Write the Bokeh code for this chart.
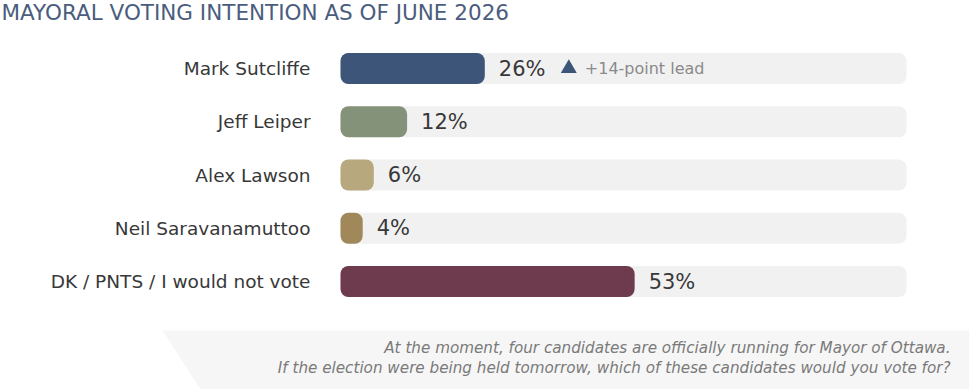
from bokeh.plotting import figure
from bokeh.models import Range1d, Label, PolyAnnotation, ColumnDataSource
from bokeh.core.properties import value
from bokeh.embed import file_html
from bokeh.resources import INLINE

# ---- data ----
candidates = ["Mark Sutcliffe", "Jeff Leiper", "Alex Lawson", "Neil Saravanamuttoo", "DK / PNTS / I would not vote"]
shares = [26, 12, 6, 4, 53]
bar_colors = ["#3d5578", "#849279", "#b8a87e", "#a0885a", "#6e3a4e"]
lead_text = "+14-point lead"
title_text = "MAYORAL VOTING INTENTION AS OF JUNE 2026"
note_lines = ["At the moment, four candidates are officially running for Mayor of Ottawa.",
              "If the election were being held tomorrow, which of these candidates would you vote for?"]
track_max = 102

W, H = 969, 389
PX = 5.55      # pixels per percentage point
X0 = 340       # pixel of 0%
ROW = 53.25    # pixels per row
Y0 = 68        # pixel of first row centre

FONT = "DejaVu Sans"

p = figure(width=W, height=H, output_backend="svg", toolbar_location=None,
           x_range=Range1d(-X0 / PX, (W - X0) / PX),
           y_range=Range1d((H - Y0) / ROW, -Y0 / ROW),
           min_border=0, min_border_left=0, min_border_right=0,
           min_border_top=0, min_border_bottom=0)
p.axis.visible = False
p.grid.visible = False
p.outline_line_color = None
p.background_fill_color = "white"
p.border_fill_color = "white"

# footnote background parallelogram (decoration, screen units)
p.add_layout(PolyAnnotation(xs=[162, W, W, 200], ys=[H - 330, H - 330, 0, 0],
                            xs_units="screen", ys_units="screen",
                            fill_color="#f6f6f6", fill_alpha=1, line_color=None, level="underlay"))

rows = list(range(len(candidates)))
src = ColumnDataSource(dict(y=rows, share=shares, color=bar_colors, name=candidates,
                            label=[f"{v}%" for v in shares], track=[track_max] * len(rows)))

bh = 31 / ROW
p.hbar(y="y", left=0, right="track", height=bh, source=src, fill_color="#f1f1f1",
       line_color=None, border_radius=8)
p.hbar(y="y", left=0, right="share", height=bh, source=src, fill_color="color",
       line_color=None, border_radius=8)

p.text(x=-30 / PX, y="y", text="name", source=src, text_align="right", text_baseline="middle",
       text_font=value(FONT), text_font_size="18.5px", text_color="#383838")
p.text(x="share", y="y", text="label", source=src, x_offset=14, text_align="left",
       text_baseline="middle", text_font=value(FONT), text_font_size="21px", text_color="#383838")

# lead annotation next to the leader
lead = shares[0]
p.scatter(x=[lead + 84 / PX], y=[0], marker="triangle", size=16, fill_color="#3d5578", line_color=None)
p.text(x=[lead + 100 / PX], y=[0], text=[lead_text], text_align="left", text_baseline="middle",
       text_font=value(FONT), text_font_size="16px", text_color="#8a8a8a")

p.add_layout(Label(x=1, y=H - 12, x_units="screen", y_units="screen", text=title_text,
                   text_font=FONT, text_font_size="21.5px", text_color="#4b5d7e",
                   text_baseline="middle", text_align="left"))
for i, line in enumerate(note_lines):
    p.add_layout(Label(x=950, y=H - 347 - 20 * i, x_units="screen", y_units="screen", text=line,
                       text_font=FONT, text_font_size="15.2px", text_font_style="italic",
                       text_color="#7a7a7a", text_baseline="middle", text_align="right"))

open("out.html", "w").write(file_html(p, INLINE))
